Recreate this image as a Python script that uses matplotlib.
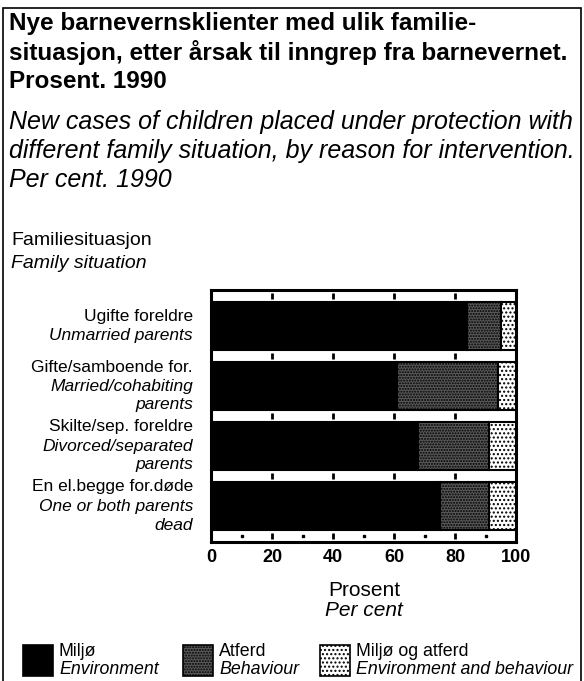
import matplotlib
matplotlib.use("Agg")
import matplotlib.pyplot as plt
from matplotlib.patches import Rectangle
import numpy as np

plt.rcParams['font.family'] = ['Liberation Sans', 'DejaVu Sans']
plt.rcParams['hatch.linewidth'] = 1.0

# ---------------- data ----------------
categories_no = ["Ugifte foreldre", "Gifte/samboende for.", "Skilte/sep. foreldre", "En el.begge for.døde"]
categories_en = ["Unmarried parents", "Married/cohabiting\nparents", "Divorced/separated\nparents", "One or both parents\ndead"]
miljo = [84, 61, 68, 75]
atferd = [11, 33, 23, 16]
miljo_atferd = [5, 6, 9, 9]
series_no = ["Miljø", "Atferd", "Miljø og atferd"]
series_en = ["Environment", "Behaviour", "Environment and behaviour"]
xticks = [0, 20, 40, 60, 80, 100]
xminor = [10, 30, 50, 70, 90]

W, H = 584, 681
fig = plt.figure(figsize=(W / 100, H / 100), dpi=100)

def fx(px):
    return px / W

def fy(py):
    return 1 - py / H

# outer frame
fig.add_artist(Rectangle((fx(3), fy(690)), fx(578), (690 - 8) / H, transform=fig.transFigure,
                         fill=False, edgecolor='black', linewidth=1.2))

# titles
fig.text(fx(9), fy(12), "Nye barnevernsklienter med ulik familie-\nsituasjon, etter årsak til inngrep fra barnevernet.\nProsent. 1990",
         ha='left', va='top', fontsize=17.5, fontweight='bold', linespacing=1.25)
fig.text(fx(9), fy(110), "New cases of children placed under protection with\ndifferent family situation, by reason for intervention.\nPer cent. 1990",
         ha='left', va='top', fontsize=18, style='italic', linespacing=1.27)
fig.text(fx(11), fy(240), "Familiesituasjon", ha='left', va='center', fontsize=14)
fig.text(fx(11), fy(263), "Family situation", ha='left', va='center', fontsize=14, style='italic')

# axes
ax_left, ax_right, ax_top, ax_bot = 211, 516, 290, 542
ax = fig.add_axes([fx(ax_left), fy(ax_bot), (ax_right - ax_left) / W, (ax_bot - ax_top) / H])
y = np.arange(len(categories_no))
h = 0.8
ax.barh(y, miljo, height=h, color='black', edgecolor='black', linewidth=1.5, zorder=3)
ax.barh(y, atferd, left=miljo, height=h, color='#5a5a5a', hatch='......', edgecolor='black', linewidth=1.5, zorder=3)
left2 = np.array(miljo) + np.array(atferd)
ax.barh(y, miljo_atferd, left=left2, height=h, color='white', hatch='....', edgecolor='black', linewidth=1.5, zorder=3)

ax.set_xlim(0, 100)
ax.set_ylim(len(categories_no) - 0.4, -0.6)
ax.set_xticks(xticks)
ax.set_xticklabels([str(t) for t in xticks], fontsize=13, fontweight='bold')
ax.tick_params(axis='x', length=0, pad=5)
ax.set_yticks([])
for s in ax.spines.values():
    s.set_linewidth(2.2)

# small tick marks in the white gaps
gaps = np.arange(-0.5, len(categories_no), 1.0)
for g in gaps:
    ax.plot(xticks[1:-1], [g] * (len(xticks) - 2), linestyle='none', marker='|', color='black',
            markersize=4, markeredgewidth=2, zorder=2)
ax.plot(xminor, [gaps[-1]] * len(xminor), linestyle='none', marker='s', color='black',
        markersize=1.5, zorder=2)

# category labels, one line at a time
line_px = 19
for i in range(len(categories_no)):
    lines = [(categories_no[i], 'normal')] + [(t, 'italic') for t in categories_en[i].split('\n')]
    n = len(lines)
    for j, (txt, st) in enumerate(lines):
        off = ((n - 1) / 2 - j) * line_px
        ax.annotate(txt, xy=(0, i), xycoords=('axes fraction', 'data'), xytext=(-18, off),
                    textcoords='offset pixels', ha='right', va='center', fontsize=12.5, style=st,
                    annotation_clip=False)

# x axis label
fig.text(fx(364), fy(591), "Prosent", ha='center', va='center', fontsize=15)
fig.text(fx(364), fy(611), "Per cent", ha='center', va='center', fontsize=15, style='italic')

# legend
leg_x = [23, 183, 320]
styles = [dict(facecolor='black', hatch=None), dict(facecolor='#5a5a5a', hatch='......'),
          dict(facecolor='white', hatch='....')]
for i in range(3):
    st = styles[i]
    fig.add_artist(Rectangle((fx(leg_x[i]), fy(676)), 30 / W, 31 / H, transform=fig.transFigure,
                             facecolor=st['facecolor'], hatch=st['hatch'], edgecolor='black', linewidth=1.2))
    fig.text(fx(leg_x[i] + 36), fy(651), series_no[i], ha='left', va='center', fontsize=12.8)
    fig.text(fx(leg_x[i] + 36), fy(669), series_en[i], ha='left', va='center', fontsize=12.8, style='italic')

fig.savefig("out.png", dpi=100)
